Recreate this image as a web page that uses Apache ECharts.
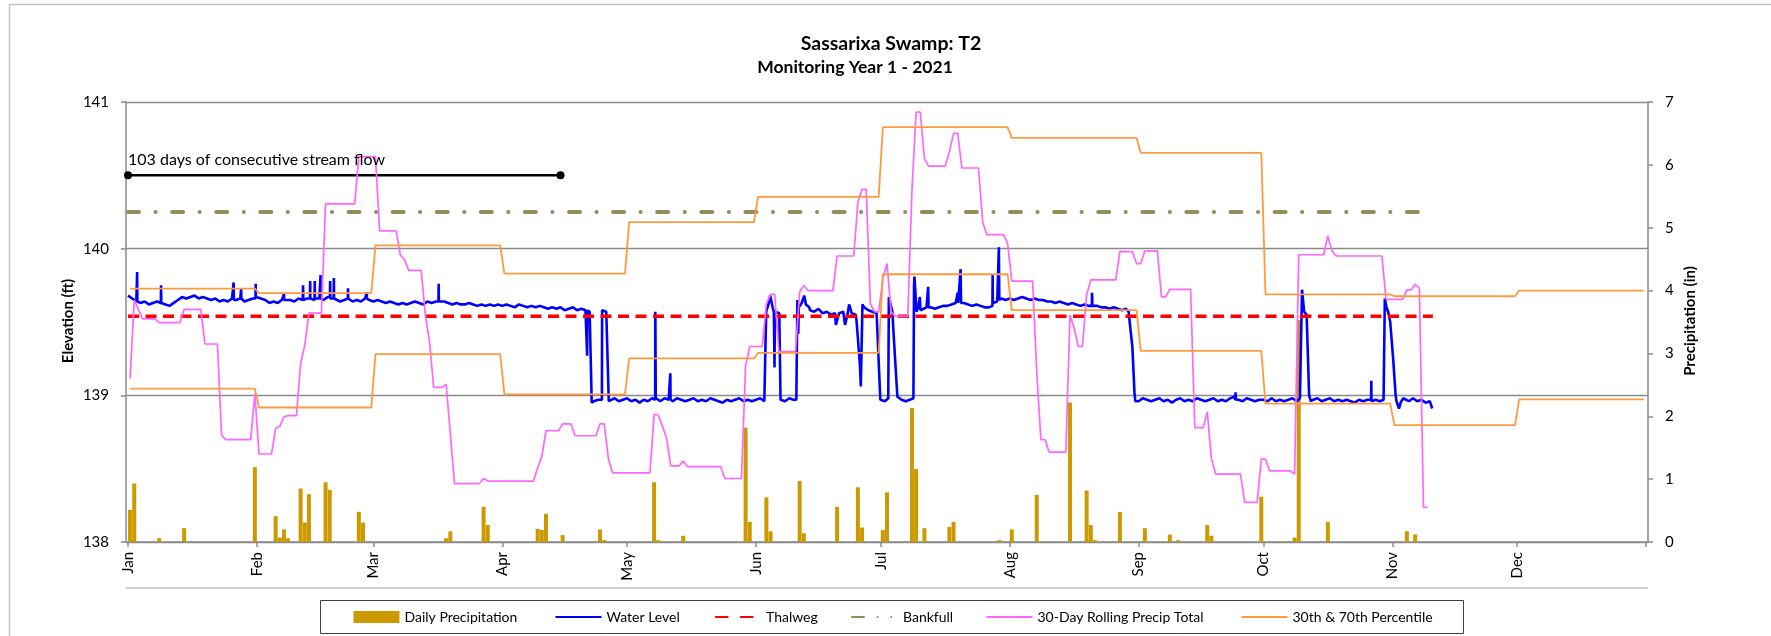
<!DOCTYPE html>
<html>
<head>
<meta charset="utf-8">
<title>Sassarixa Swamp: T2</title>
<script src="https://cdn.jsdelivr.net/npm/echarts@6/dist/echarts.min.js"></script>
<style>
  html, body { margin: 0; padding: 0; background: #ffffff; }
  #chart { width: 1771px; height: 636px; }
</style>
</head>
<body>
<div id="chart"></div>
<script>
// Month names used for the date axis labels
const monthNames = ['Jan', 'Feb', 'Mar', 'Apr', 'May', 'Jun', 'Jul', 'Aug', 'Sep', 'Oct', 'Nov', 'Dec'];

// Daily precipitation (in): day of year (0 = Jan 1) and the day's total
const precipDay = [0, 1, 7, 13, 30, 35, 36, 37, 38, 41, 42, 43, 47, 48, 55, 56, 76, 77, 85, 86,
  98, 99, 100, 104, 113, 114, 126, 127, 133, 148, 149, 153, 154, 161, 162, 170, 175, 176, 181, 182,
  188, 189, 191, 197, 198, 209, 212, 218, 226, 230, 231, 232, 238, 244, 250, 252, 259, 260, 272, 280,
  281, 288, 307, 309];
const precipIn = [0.51, 0.93, 0.06, 0.22, 1.19, 0.41, 0.07, 0.20, 0.06, 0.85, 0.31, 0.76, 0.95, 0.83, 0.48, 0.31, 0.06, 0.17, 0.56, 0.27,
  0.21, 0.19, 0.45, 0.11, 0.20, 0.03, 0.95, 0.03, 0.10, 1.82, 0.32, 0.71, 0.17, 0.97, 0.14, 0.56, 0.87, 0.23, 0.19, 0.79,
  2.13, 1.16, 0.22, 0.24, 0.32, 0.03, 0.20, 0.75, 2.22, 0.82, 0.27, 0.03, 0.48, 0.22, 0.12, 0.03, 0.27, 0.10, 0.72, 0.07,
  3.53, 0.32, 0.17, 0.12];

// 30-day rolling precipitation total (in), one value per day starting Jan 1
const rollingIn = [
  // Jan
  2.60, 3.85, 3.70, 3.55, 3.55, 3.55, 3.55, 3.49, 3.49, 3.49, 3.49, 3.49, 3.49, 3.70, 3.70, 3.70, 3.70, 3.70, 3.15, 3.15, 3.15, 3.15, 1.70, 1.63, 1.63, 1.63, 1.63, 1.63, 1.63, 1.63, 2.36,
  // Feb
  1.40, 1.40, 1.40, 1.40, 1.81, 1.84, 1.99, 2.01, 2.01, 2.01, 2.84, 3.13, 3.64, 3.64, 3.64, 3.64, 5.38, 5.38, 5.38, 5.38, 5.38, 5.38, 5.38, 5.38, 6.13, 6.13, 6.13, 6.13,
  // Mar
  6.13, 4.95, 4.95, 4.95, 4.95, 4.95, 4.56, 4.49, 4.32, 4.32, 4.32, 4.32, 3.61, 3.18, 2.46, 2.46, 2.46, 2.51, 1.72, 0.93, 0.93, 0.93, 0.93, 0.93, 0.93, 0.93, 1.01, 0.97, 0.97, 0.97, 0.97,
  // Apr
  0.97, 0.97, 0.97, 0.97, 0.97, 0.97, 0.97, 0.97, 1.18, 1.36, 1.77, 1.77, 1.77, 1.77, 1.88, 1.88, 1.88, 1.69, 1.69, 1.69, 1.69, 1.69, 1.69, 1.88, 1.88, 1.33, 1.10, 1.10, 1.10, 1.10,
  // May
  1.10, 1.10, 1.10, 1.10, 1.10, 1.10, 2.03, 2.02, 1.84, 1.65, 1.21, 1.21, 1.21, 1.29, 1.20, 1.20, 1.20, 1.20, 1.20, 1.20, 1.20, 1.20, 1.20, 1.01, 1.01, 1.01, 1.01, 1.01, 2.81, 3.11, 3.11,
  // Jun
  3.11, 3.11, 3.79, 3.94, 3.94, 3.03, 3.03, 3.03, 3.03, 3.03, 3.98, 4.08, 4.00, 4.00, 4.00, 4.00, 4.00, 4.00, 4.00, 4.55, 4.55, 4.55, 4.55, 4.55, 5.41, 5.61, 5.61, 3.79, 3.66, 3.66,
  // Jul
  4.19, 4.43, 3.66, 3.59, 3.59, 3.59, 3.59, 5.60, 6.84, 6.84, 6.10, 5.98, 5.98, 5.98, 5.98, 5.98, 6.21, 6.50, 6.50, 5.95, 5.95, 5.95, 5.95, 5.95, 5.09, 4.89, 4.89, 4.89, 4.89, 4.89, 4.75,
  // Aug
  4.15, 4.15, 4.15, 4.15, 4.15, 4.15, 2.71, 1.63, 1.63, 1.43, 1.43, 1.43, 1.43, 1.43, 3.61, 3.40, 3.11, 3.11, 3.93, 4.17, 4.17, 4.17, 4.17, 4.17, 4.17, 4.17, 4.62, 4.62, 4.62, 4.62, 4.43,
  // Sep
  4.43, 4.63, 4.63, 4.63, 4.63, 3.90, 3.90, 4.02, 4.02, 4.02, 4.02, 4.02, 4.02, 1.82, 1.82, 1.82, 2.07, 1.33, 1.08, 1.08, 1.08, 1.08, 1.08, 1.08, 1.08, 0.63, 0.63, 0.63, 0.63, 1.32,
  // Oct
  1.32, 1.13, 1.13, 1.13, 1.13, 1.13, 1.13, 1.08, 4.57, 4.57, 4.57, 4.57, 4.57, 4.57, 4.57, 4.87, 4.63, 4.55, 4.55, 4.55, 4.55, 4.55, 4.55, 4.55, 4.55, 4.55, 4.55, 4.55, 4.55, 3.86, 3.86,
  // Nov
  3.86, 3.86, 3.86, 4.01, 4.01, 4.10, 4.04, 0.55, 0.55
];

// Monthly 30th and 70th percentile of 30-day rainfall (in), Jan..Dec
const pct30 = [2.44, 2.14, 2.99, 2.35, 2.92, 3.01, 4.26, 3.69, 3.04, 2.20, 1.86, 2.27];
const pct70 = [4.03, 3.96, 4.72, 4.27, 5.09, 5.49, 6.60, 6.43, 6.19, 3.94, 3.91, 4.00];

// Water level (ft), one reading per day at midnight starting Jan 1
const levelDaily = [
  // Jan
  139.68, 139.66, 139.64, 139.63, 139.64, 139.62, 139.63, 139.64, 139.63, 139.62, 139.61, 139.63, 139.65, 139.67, 139.66, 139.67, 139.68, 139.66, 139.67, 139.66, 139.65, 139.66, 139.64, 139.65, 139.64, 139.66, 139.65, 139.66, 139.64, 139.65, 139.66,
  // Feb
  139.68, 139.66, 139.65, 139.63, 139.64, 139.63, 139.65, 139.64, 139.65, 139.64, 139.66, 139.65, 139.66, 139.65, 139.67, 139.66, 139.65, 139.67, 139.66, 139.65, 139.64, 139.65, 139.66, 139.64, 139.65, 139.64, 139.66, 139.65,
  // Mar
  139.64, 139.65, 139.64, 139.63, 139.64, 139.63, 139.62, 139.63, 139.62, 139.63, 139.64, 139.63, 139.62, 139.64, 139.63, 139.64, 139.63, 139.64, 139.63, 139.62, 139.63, 139.62, 139.62, 139.63, 139.62, 139.61, 139.62, 139.61, 139.62, 139.61, 139.62,
  // Apr
  139.61, 139.62, 139.61, 139.60, 139.62, 139.61, 139.60, 139.61, 139.60, 139.61, 139.60, 139.59, 139.60, 139.59, 139.60, 139.58, 139.59, 139.60, 139.58, 139.59, 139.58, 139.57, 138.96, 138.97, 139.58, 139.57, 138.96, 138.98, 138.96, 138.97,
  // May
  138.98, 138.96, 138.97, 138.95, 138.97, 138.96, 138.98, 138.97, 138.96, 138.98, 138.97, 138.96, 138.98, 138.97, 138.96, 138.97, 138.98, 138.96, 138.97, 138.96, 138.98, 138.97, 138.96, 138.95, 138.97, 138.96, 138.97, 138.98, 138.96, 138.97, 138.96,
  // Jun
  138.97, 138.98, 138.96, 139.62, 139.60, 139.58, 138.97, 138.96, 138.98, 138.97, 139.60, 139.63, 139.62, 139.58, 139.57, 139.59, 139.56, 139.57, 139.55, 139.56, 139.56, 139.57, 139.55, 139.56, 139.55, 139.20, 139.60, 139.58, 139.57, 139.56,
  // Jul
  138.97, 138.96, 139.66, 139.46, 138.99, 138.97, 138.96, 138.97, 139.75, 139.60, 139.58, 139.60, 139.60, 139.59, 139.60, 139.61, 139.61, 139.62, 139.63, 139.64, 139.63, 139.62, 139.61, 139.62, 139.61, 139.60, 139.60, 139.63, 139.64, 139.66, 139.65,
  // Aug
  139.66, 139.65, 139.66, 139.67, 139.66, 139.65, 139.66, 139.65, 139.65, 139.64, 139.64, 139.63, 139.64, 139.63, 139.62, 139.63, 139.62, 139.61, 139.62, 139.61, 139.62, 139.61, 139.60, 139.60, 139.59, 139.60, 139.59, 139.58, 139.59, 139.46, 139.02,
  // Sep
  138.96, 138.98, 138.97, 138.96, 138.97, 138.98, 138.96, 138.97, 138.95, 138.97, 138.98, 138.96, 138.97, 138.96, 138.98, 138.97, 138.96, 138.97, 138.98, 138.96, 138.97, 138.96, 138.98, 138.99, 138.97, 138.96, 138.98, 138.97, 138.96, 138.97,
  // Oct
  138.97, 138.96, 138.98, 138.96, 138.97, 138.96, 138.97, 138.98, 138.96, 139.30, 139.56, 139.00, 138.97, 138.98, 138.96, 138.97, 138.98, 138.96, 138.97, 138.96, 138.97, 138.96, 138.95, 138.97, 138.96, 138.97, 138.96, 138.97, 138.96, 139.20, 139.57,
  // Nov
  139.32, 138.96, 138.95, 138.97, 138.96, 138.98, 138.96, 138.97, 138.95, 138.96
];

// Short-lived rises and drops between the daily readings: [day of year, ft]
const levelEvents = [
  [2.15, 139.64], [2.2, 139.84], [2.25, 139.64],
  [7.9, 139.63], [7.95, 139.75],
  [25.35, 139.65], [25.4, 139.77], [25.45, 139.65],
  [27.15, 139.66], [27.2, 139.73], [27.25, 139.66],
  [30.65, 139.66], [30.7, 139.76], [30.75, 139.67],
  [37.45, 139.65], [37.5, 139.69], [37.55, 139.65],
  [42.05, 139.65], [42.1, 139.75], [42.15, 139.65],
  [43.75, 139.66], [43.8, 139.78], [43.85, 139.66],
  [44.85, 139.65], [44.9, 139.78], [44.95, 139.66],
  [46.25, 139.66], [46.3, 139.82], [46.35, 139.66],
  [48.55, 139.67], [48.6, 139.78], [48.65, 139.66],
  [49.45, 139.66], [49.5, 139.80], [49.55, 139.66],
  [52.85, 139.66], [52.9, 139.73], [52.95, 139.66],
  [57.35, 139.66], [57.4, 139.70], [57.45, 139.66],
  [74.65, 139.64], [74.7, 139.76], [74.75, 139.64],
  [110.35, 139.58], [110.4, 139.27], [110.45, 139.58],
  [111.3, 139.56], [111.5, 138.95],
  [113.95, 138.97],
  [115.3, 139.57], [115.6, 138.96],
  [126.75, 138.97], [126.8, 139.57], [126.9, 138.98],
  [130.35, 138.97], [130.4, 139.15], [130.45, 138.97],
  [153.35, 138.97], [153.45, 139.57], [154.4, 139.68],
  [155.3, 139.57], [155.45, 139.19], [155.55, 139.57],
  [156.6, 139.56], [156.9, 138.97],
  [160.7, 138.97], [160.95, 139.65], [161.15, 139.42], [161.3, 139.60],
  [162.6, 139.68], [163.8, 139.60],
  [170.2, 139.48], [172.4, 139.48], [173.4, 139.62],
  [175.2, 139.50], [176.2, 139.06], [176.6, 139.62],
  [180.1, 139.55], [180.9, 138.97],
  [182.8, 138.98], [182.95, 139.67], [183.8, 139.57], [184.4, 139.27], [185.1, 138.99],
  [188.85, 138.98], [189.1, 139.81], [189.6, 139.57], [190.4, 139.67], [190.55, 139.58],
  [192.35, 139.60], [192.4, 139.74], [192.5, 139.60],
  [199.45, 139.63], [199.5, 139.70], [199.6, 139.63],
  [200.15, 139.64], [200.2, 139.86], [200.3, 139.63],
  [207.85, 139.61], [207.9, 139.82], [207.95, 139.63],
  [209.35, 139.64], [209.4, 140.01], [209.5, 139.65],
  [231.75, 139.61], [231.8, 139.70], [231.9, 139.61],
  [240.6, 139.57], [241.5, 139.33], [242.2, 138.96],
  [266.25, 138.97], [266.3, 139.02], [266.4, 138.97],
  [281.8, 138.98], [282.3, 139.72], [282.8, 139.57], [283.4, 139.55], [284.4, 138.96],
  [298.9, 138.97], [298.95, 139.10],
  [301.9, 138.97], [302.2, 139.66], [302.6, 139.60], [303.5, 139.50], [304.2, 139.25], [304.8, 139.00], [305.6, 138.91], [306.6, 138.98],
  [313.6, 138.91]
];

// Reference elevations (ft) and the stretch of consecutive stream flow
const thalwegFt = 139.54;
const bankfullFt = 140.25;
const recordEndDay = 313.75;
const flowFt = 140.5;
const flowStartDay = 0;
const flowEndDay = 104;
const flowNote = '103 days of consecutive stream flow';

// ---- helpers ----
const FONT = 'Lato';
const AXIS_GRAY = '#8a8a8a';

function dayTime(d) {
  const whole = Math.floor(d);
  return new Date(2021, 0, 1 + whole, 0, 0, Math.round((d - whole) * 86400)).getTime();
}

const levelData = levelDaily.map((v, i) => [dayTime(i), v])
  .concat(levelEvents.map(e => [dayTime(e[0]), e[1]]))
  .sort((a, b) => a[0] - b[0]);

const precipData = precipDay.map((d, i) => [dayTime(d + 0.5), precipIn[i]]);
const rollingData = rollingIn.map((v, i) => [dayTime(i + 0.5), v]);

function monthlySteps(values) {
  const pts = [];
  values.forEach((v, m) => {
    pts.push([new Date(2021, m, 1, 12).getTime(), v]);
    pts.push([new Date(2021, m + 1, 0, 12).getTime(), v]);
  });
  return pts;
}

const refLine = ft => [[dayTime(0), ft], [dayTime(recordEndDay), ft]];

// one legend block per entry so each sits where it belongs in the framed key
const legendBase = {
  top: 610,
  padding: 0,
  itemWidth: 46,
  itemHeight: 12,
  itemGap: 0,
  selectedMode: false,
  textStyle: { fontFamily: FONT, fontSize: 14, color: '#000' }
};
const lineKey = { itemStyle: { opacity: 0 } };

const chart = echarts.init(document.getElementById('chart'), null, { renderer: 'canvas' });

chart.setOption({
  animation: false,
  backgroundColor: '#ffffff',
  textStyle: { fontFamily: FONT },
  grid: { left: 126, right: 123, top: 102, bottom: 94, containLabel: false },
  legend: [
    Object.assign({}, legendBase, { left: 353.5, data: [{ name: 'Daily Precipitation', icon: 'rect' }] }),
    Object.assign({}, legendBase, lineKey, { left: 554.5, data: ['Water Level'] }),
    Object.assign({}, legendBase, lineKey, { left: 714, data: ['Thalweg'], lineStyle: { type: [13.5, 11.5] } }),
    Object.assign({}, legendBase, lineKey, { left: 851, data: ['Bankfull'], lineStyle: { type: [12, 13.5, 0.1, 13.5, 0.1, 20] } }),
    Object.assign({}, legendBase, lineKey, { left: 985.5, data: ['30-Day Rolling Precip Total'] }),
    Object.assign({}, legendBase, lineKey, { left: 1240.5, data: ['30th & 70th Percentile'] })
  ],
  xAxis: {
    type: 'time',
    min: dayTime(0),
    max: new Date(2022, 0, 1).getTime(),
    minInterval: 28 * 86400000,
    maxInterval: 31 * 86400000,
    splitLine: { show: false },
    axisLine: { lineStyle: { color: AXIS_GRAY, width: 1.5 } },
    axisTick: { show: true, length: 5, lineStyle: { color: AXIS_GRAY, width: 1.5 } },
    axisLabel: {
      rotate: 90,
      margin: 10,
      fontSize: 15,
      fontFamily: FONT,
      color: '#000',
      formatter: v => {
        const d = new Date(v);
        return d.getFullYear() === 2021 ? monthNames[d.getMonth()] : '';
      }
    }
  },
  yAxis: [
    {
      type: 'value', position: 'left', min: 138, max: 141, interval: 1,
      axisLine: { show: true, lineStyle: { color: AXIS_GRAY, width: 1.5 } },
      axisTick: { show: true, length: 5, lineStyle: { color: AXIS_GRAY, width: 1.5 } },
      splitLine: { show: true, lineStyle: { color: AXIS_GRAY, width: 1.3 } },
      axisLabel: { margin: 17, fontSize: 15, fontFamily: FONT, color: '#000' }
    },
    {
      type: 'value', position: 'right', min: 0, max: 7, interval: 1,
      axisLine: { show: true, lineStyle: { color: AXIS_GRAY, width: 1.5 } },
      axisTick: { show: true, length: 5, lineStyle: { color: AXIS_GRAY, width: 1.5 } },
      splitLine: { show: false },
      axisLabel: { margin: 17, fontSize: 15, fontFamily: FONT, color: '#000' }
    }
  ],
  series: [
    {
      name: 'Water Level', type: 'line', yAxisIndex: 0, data: levelData,
      symbol: 'none', showSymbol: false,
      lineStyle: { color: '#0000ff', width: 2.6 }, itemStyle: { color: '#0000ff' }
    },
    {
      name: 'Thalweg', type: 'line', yAxisIndex: 0, data: refLine(thalwegFt),
      symbol: 'none',
      lineStyle: { color: '#ff0000', width: 3.5, type: [11, 6.5] }, itemStyle: { color: '#ff0000' }
    },
    {
      name: 'Bankfull', type: 'line', yAxisIndex: 0, data: refLine(bankfullFt),
      symbol: 'none',
      lineStyle: { color: '#968b59', width: 4, type: [11, 16.5, 0.1, 16.5], cap: 'round' }, itemStyle: { color: '#968b59' }
    },
    {
      name: 'Stream flow', type: 'line', yAxisIndex: 0,
      data: [
        {
          value: [dayTime(flowStartDay), flowFt],
          label: {
            show: true, position: 'top', align: 'left', distance: 3,
            formatter: flowNote, fontSize: 16, fontFamily: FONT, color: '#000'
          }
        },
        [dayTime(flowEndDay), flowFt]
      ],
      symbol: 'circle', symbolSize: 8, showSymbol: true,
      lineStyle: { color: '#000', width: 2.5 }, itemStyle: { color: '#000' }
    },
    {
      name: 'Daily Precipitation', type: 'bar', yAxisIndex: 1, data: precipData,
      barWidth: 4, itemStyle: { color: '#cc9900' }
    },
    {
      name: '30-Day Rolling Precip Total', type: 'line', yAxisIndex: 1, data: rollingData,
      symbol: 'none',
      lineStyle: { color: '#ff66ff', width: 1.7 }, itemStyle: { color: '#ff66ff' }
    },
    {
      name: '30th & 70th Percentile', type: 'line', yAxisIndex: 1, data: monthlySteps(pct30),
      symbol: 'none',
      lineStyle: { color: '#ff9a3c', width: 1.8 }, itemStyle: { color: '#ff9a3c' }
    },
    {
      name: '30th & 70th Percentile', type: 'line', yAxisIndex: 1, data: monthlySteps(pct70),
      symbol: 'none',
      lineStyle: { color: '#ff9a3c', width: 1.8 }, itemStyle: { color: '#ff9a3c' }
    }
  ],
  graphic: [
    // chart frame
    { type: 'polyline', silent: true, shape: { points: [[9.5, 636], [9.5, 4.5], [1771, 4.5]] },
      style: { stroke: '#c3c3c3', lineWidth: 1.5, fill: null } },
    // rule under the month labels
    { type: 'line', silent: true, shape: { x1: 126, y1: 588, x2: 1648, y2: 588 },
      style: { stroke: '#cfcfcf', lineWidth: 2 } },
    // legend frame
    { type: 'rect', silent: true, shape: { x: 320.5, y: 600.5, width: 1143, height: 33 },
      style: { stroke: '#404040', lineWidth: 1, fill: null } },
    // titles
    { type: 'text', silent: true, x: 891, y: 44,
      style: { text: 'Sassarixa Swamp: T2', font: 'bold 19.5px Lato', fill: '#000', align: 'center', verticalAlign: 'middle' } },
    { type: 'text', silent: true, x: 855, y: 67,
      style: { text: 'Monitoring Year 1 - 2021', font: 'bold 17.5px Lato', fill: '#000', align: 'center', verticalAlign: 'middle' } },
    // axis titles
    { type: 'text', silent: true, x: 68, y: 321, rotation: Math.PI / 2,
      style: { text: 'Elevation (ft)', font: 'bold 15px Lato', fill: '#000', align: 'center', verticalAlign: 'middle' } },
    { type: 'text', silent: true, x: 1690, y: 321, rotation: Math.PI / 2,
      style: { text: 'Precipitation (in)', font: 'bold 15px Lato', fill: '#000', align: 'center', verticalAlign: 'middle' } }
  ]
});
</script>
</body>
</html>
